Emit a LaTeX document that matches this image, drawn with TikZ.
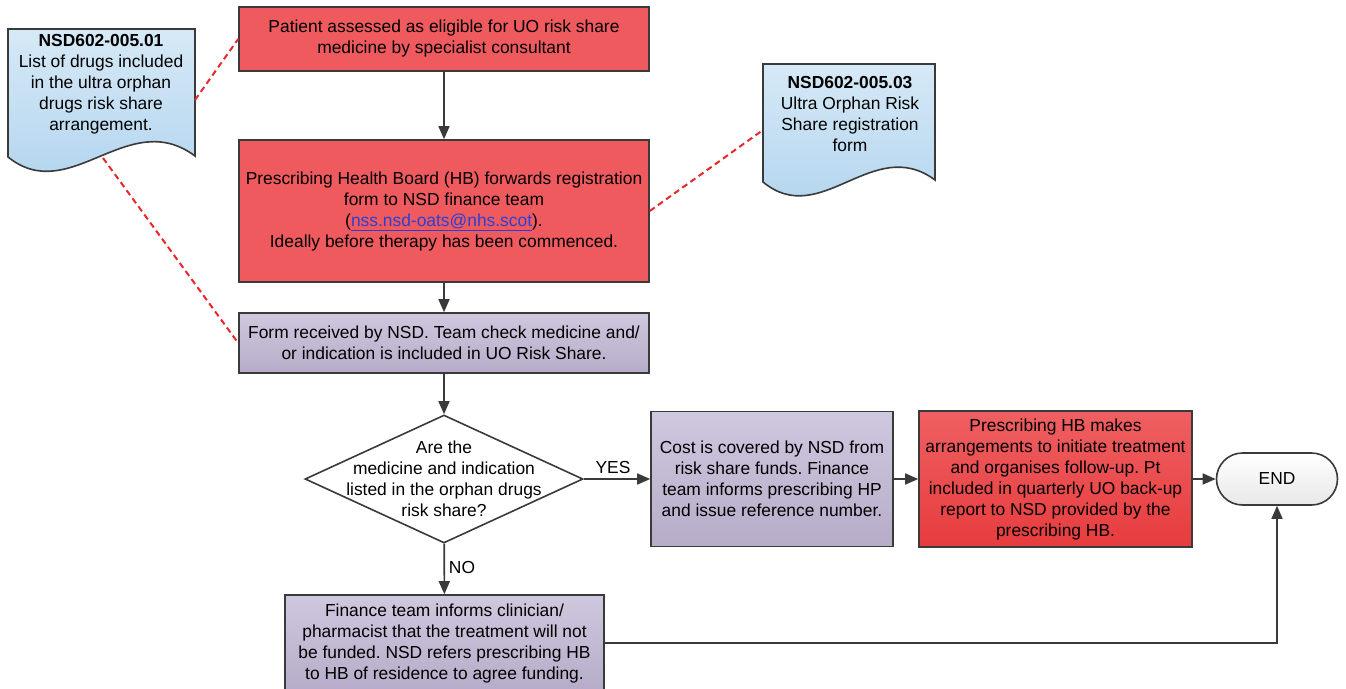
\documentclass[tikz,border=0pt]{standalone}
\usepackage{fontspec}
\setmainfont{Liberation Sans}
\usetikzlibrary{shapes.geometric,arrows.meta}
\frenchspacing
\definecolor{redbox}{HTML}{EF5A5E}
\definecolor{redtop}{HTML}{EF5F61}
\definecolor{redbot}{HTML}{E73C3E}
\definecolor{purtop}{HTML}{CFC8DE}
\definecolor{purbot}{HTML}{B6ACC9}
\definecolor{bluetop}{HTML}{D6E9F6}
\definecolor{bluebot}{HTML}{AED2EE}
\definecolor{edgegray}{HTML}{3A3A3A}
\definecolor{dashred}{HTML}{E8262B}
\definecolor{linkblue}{HTML}{2B3FD6}
\tikzset{
  base/.style={draw=edgegray, line width=1.6pt, align=center, inner sep=2pt,
    font=\fontsize{17.4}{21}\selectfont},
  redstep/.style={base, rectangle, fill=redbox},
  redgrad/.style={base, rectangle, top color=redtop, bottom color=redbot},
  purstep/.style={base, rectangle, top color=purtop, bottom color=purbot},
  docshape/.style={draw=edgegray, line width=1.6pt, top color=bluetop, bottom color=bluebot},
  doctext/.style={align=center, inner sep=0pt, font=\fontsize{17.4}{21}\selectfont},
  lbl/.style={inner sep=0pt, font=\fontsize{17.4}{21}\selectfont},
  arr/.style={draw=edgegray, line width=1.6pt, -{Triangle[length=13pt,width=11pt]}},
  reddash/.style={draw=dashred, line width=2pt, dash pattern=on 6pt off 4pt},
}
\begin{document}
\begin{tikzpicture}[x=1pt,y=-1pt]
\useasboundingbox (0,0) rectangle (1346,688);
\clip (0,0) rectangle (1346,688);
\fill[white] (0,0) rectangle (1346,688);

% documents
\path[docshape] (8,29) -- (195,29) -- (195,156)
  .. controls (128,106) and (70,207) .. (8,157) -- cycle;
\node[doctext] (doc1) at (101,84) {\textbf{NSD602-005.01}\\List of drugs included\\in the ultra orphan\\drugs risk share\\arrangement.};
\coordinate (d1r) at (195,100);
\coordinate (d1b) at (103,158);

\path[docshape] (763,64) -- (935,64) -- (935,180)
  .. controls (873,134) and (821,230) .. (763,182) -- cycle;
\node[doctext] (doc2) at (850,114) {\textbf{NSD602-005.03}\\Ultra Orphan Risk\\Share registration\\form};
\coordinate (d2l) at (763,130);

% process boxes
\node[redstep, minimum width=410, minimum height=64] (b1) at (444,39)
  {Patient assessed as eligible for UO risk share\\medicine by specialist consultant};
\node[redstep, minimum width=410, minimum height=142] (b2) at (444,211)
  {Prescribing Health Board (HB) forwards registration\\form to NSD finance team\\(\textcolor{linkblue}{\underline{nss.nsd-oats@nhs.scot}}).\\Ideally before therapy has been commenced.};
\node[purstep, minimum width=410, minimum height=60] (b3) at (444,343)
  {Form received by NSD. Team check medicine and/\\or indication is included in UO Risk Share.};
\node[base, diamond, fill=white, minimum width=278, minimum height=128, inner sep=0pt] (dec) at (444,479) {};
\node[lbl, align=center] (dectext) at (444,479) {Are the\\medicine and indication\\listed in the orphan drugs\\risk share?};
\node[purstep, minimum width=242, minimum height=135] (b4) at (772,479)
  {Cost is covered by NSD from\\risk share funds. Finance\\team informs prescribing HP\\and issue reference number.};
\node[redgrad, minimum width=273, minimum height=136] (b5) at (1055.5,479)
  {Prescribing HB makes\\arrangements to initiate treatment\\and organises follow-up. Pt\\included in quarterly UO back-up\\report to NSD provided by the\\prescribing HB.};
\node[base, rectangle, rounded corners=26, top color=white, bottom color=black!9, minimum width=121, minimum height=52] (endn) at (1277,479) {END};
\node[purstep, minimum width=319, minimum height=96] (b6) at (444.5,643)
  {Finance team informs clinician/\\pharmacist that the treatment will not\\be funded. NSD refers prescribing HB\\to HB of residence to agree funding.};

% labels
\node[lbl] (yes) at (613,468) {YES};
\node[lbl] (no) at (462,568) {NO};

% connectors
\draw[arr] (b1) -- (b2);
\draw[arr] (b2) -- (b3);
\draw[arr] (b3) -- (dec);
\draw[arr] (dec) -- (b4);
\draw[arr] (b4) -- (b5);
\draw[arr] (b5) -- (endn);
\draw[arr] (dec) -- (b6);
\draw[arr] (b6.east) -| (endn.south);

% dashed associations
\draw[reddash] (d1r) -- (b1.west);
\draw[reddash] (d1b) -- (b3.west);
\draw[reddash] (b2.east) -- (d2l);
\end{tikzpicture}
\end{document}
